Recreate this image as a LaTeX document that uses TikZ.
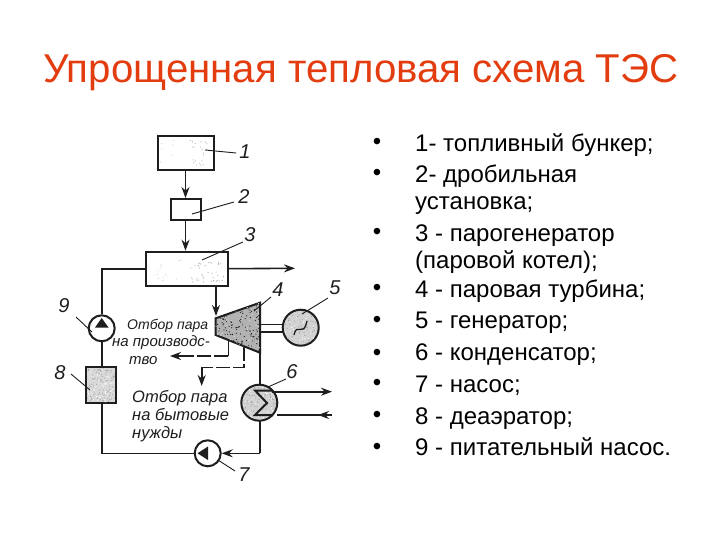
\documentclass[tikz,border=0pt]{standalone}
\usepackage{fontspec}
\setmainfont{Liberation Sans}
\usetikzlibrary{arrows.meta}
\definecolor{titlered}{RGB}{226,60,15}
\definecolor{ink}{RGB}{30,30,30}
\tikzset{
  pipe/.style={draw=ink,line width=1.6pt},
  flow/.style={pipe,-{Stealth[length=11pt,width=8pt]}},
  shell/.style={draw=ink,line width=2pt,inner sep=0pt},
  leader/.style={draw=ink,line width=.9pt},
  num/.style={font=\itshape\fontsize{20}{20}\selectfont,text=ink,inner sep=0pt},
  hand/.style={font=\itshape\fontsize{15}{17.5}\selectfont,text=ink,align=left,inner sep=0pt},
  handb/.style={font=\itshape\fontsize{16.5}{18}\selectfont,text=ink,align=left,inner sep=0pt},
  bul/.style={font=\fontsize{24}{24}\selectfont,inner sep=0pt},
  item/.style={font=\fontsize{24}{24}\selectfont,anchor=base west,inner sep=0pt}
}
% x, y, w, h, count, colour
\newcommand{\speckle}[6]{%
  \foreach \k in {1,...,#5}{%
    \pgfmathsetmacro{\px}{#1+rnd*#3}%
    \pgfmathsetmacro{\py}{#2+rnd*#4}%
    \fill[#6] (\px,\py) circle (.6pt);
  }%
}
\pgfmathsetseed{17}
\begin{document}
\begin{tikzpicture}[x=1pt,y=-1pt]
\useasboundingbox (0,0) rectangle (720,540);
\fill[white] (0,0) rectangle (720,540);
\node[anchor=base west,inner sep=0pt,text=titlered,font=\fontsize{40.2}{40}\selectfont] (title) at (43,83) {Упрощенная тепловая схема ТЭС};
% boxes
\node[shell,fill=white,minimum width=56pt,minimum height=34pt] (b1) at (185.5,153) {};
\node[shell,fill=white,minimum width=30pt,minimum height=21pt] (b2) at (185.5,209.5) {};
\node[shell,fill=white,minimum width=82pt,minimum height=34pt] (b3) at (186.5,268.7) {};
\node[shell,fill=gray!30,minimum width=30pt,minimum height=36pt] (b8) at (101,384.7) {};
\node[shell,circle,fill=white,minimum size=26pt] (p9) at (101.7,328.3) {};
\node[shell,circle,fill=white,minimum size=26pt] (p7) at (207.7,453.3) {};
\node[shell,circle,fill=gray!35,minimum size=36pt] (g5) at (300.7,327.7) {};
\node[shell,circle,fill=gray!35,minimum size=36pt] (c6) at (259.3,402.7) {};
\coordinate (t1) at (215.7,318.3);
\coordinate (t2) at (260,302.7);
\coordinate (t3) at (260,352.7);
\coordinate (t4) at (215.7,335);
\filldraw[shell,fill=gray!60] (t1) -- (t2) -- (t3) -- (t4) -- cycle;
% speckle
\speckle{190}{140}{20}{26}{22}{gray!55}
\speckle{160}{140}{15}{26}{6}{gray!35}
\speckle{190}{262}{34}{20}{40}{gray!60}
\speckle{150}{256}{40}{26}{14}{gray!35}
\begin{scope}\clip (87,368) rectangle (115,402);
\speckle{87}{368}{28}{34}{110}{gray!70}
\speckle{87}{368}{28}{34}{60}{white}
\end{scope}
\begin{scope}\clip (t1) -- (t2) -- (t3) -- (t4) -- cycle;
\speckle{216}{303}{44}{50}{150}{ink}
\speckle{216}{303}{44}{50}{50}{gray!25}
\end{scope}
\begin{scope}\clip (300.7,327.7) circle (17pt);
\speckle{283}{310}{36}{36}{90}{gray!75}
\speckle{283}{310}{36}{36}{50}{white}
\end{scope}
\begin{scope}\clip (259.3,402.7) circle (17pt);
\speckle{242}{385}{36}{36}{90}{gray!75}
\speckle{242}{385}{36}{36}{50}{white}
\end{scope}
% pump triangles
\fill[ink] (101.7,318) -- (108.5,327.5) -- (95,327.5) -- cycle;
\fill[ink] (197.5,453.3) -- (208,446.5) -- (208,460) -- cycle;
% sum symbol
\draw[ink,line width=2pt] (272,390.5) -- (255,390.5) -- (267,403) -- (255,415) -- (273,415);
% tilde
\draw[ink,line width=1.3pt] (294,335) .. controls (297,321) and (303,339) .. (307,321);
% connectors
\draw[flow] (b1.south -| b2.south) -- (b2.north);
\draw[flow] (b2.south) -- (b2.south |- b3.north);
\coordinate (a3) at (295,268.3);
\draw[flow] (b3.east) -- (a3);
\coordinate (c31) at (216,285.7);
\coordinate (c32) at (216,316);
\draw[flow] (c31) -- (c32);
\coordinate (c33) at (101.7,268.7);
\draw[pipe] (b3.west) -- (c33) -- (p9.north);
\draw[pipe] (p9.south) -- (b8.north -| p9.south);
\coordinate (c81) at (101.7,402.7);
\coordinate (c82) at (101.7,453.3);
\draw[pipe] (c81) -- (c82) -- (p7.west);
\coordinate (c61) at (260,384.7);
\draw[pipe] (t3) -- (c61);
\coordinate (c62) at (260,420.7);
\coordinate (c63) at (260,453.3);
\draw[pipe] (c62) -- (c63);
\draw[flow] (c63) -- (p7.east);
\draw[pipe] (260,324.3) -- (283,324.3);
\draw[pipe] (260,331.7) -- (283,331.7);
\coordinate (o1) at (272,391.7);
\coordinate (o2) at (332,391.7);
\coordinate (o3) at (332,415);
\coordinate (o4) at (277,415);
\coordinate (o5) at (318,415);
\draw[flow] (o1) -- (o2);
\draw[pipe] (o3) -- (o4);
\draw[flow] (o3) -- (o5);
% extractions
\coordinate (e1) at (228.3,341);
\coordinate (e2) at (228.3,356);
\coordinate (e3) at (170,356);
\coordinate (e4) at (185,356);
\draw[pipe] (e1) -- (e2);
\draw[pipe,dash pattern=on 14pt off 3pt] (e2) -- (e4);
\draw[flow] (e4) -- (e3);
\coordinate (f1) at (244,347);
\coordinate (f2) at (244,367.3);
\coordinate (f3) at (201.7,367.3);
\coordinate (f4) at (201.7,386);
\draw[pipe,dash pattern=on 14pt off 3pt] (f1) -- (f2) -- (f3);
\draw[flow] (f3) -- (f4);
% leaders and numbers
\node[num] (n1) at (245,152) {1};
\node[num] (n2) at (244,197) {2};
\node[num] (n3) at (250,235) {3};
\node[num] (n4) at (278,290) {4};
\node[num] (n5) at (335,288) {5};
\node[num] (n6) at (292,372) {6};
\node[num] (n7) at (244,475) {7};
\node[num] (n8) at (60,373) {8};
\node[num] (n9) at (64,306) {9};
\draw[leader] (205,150) -- (236,153);
\draw[leader] (192,214) -- (234,202);
\draw[leader] (202,260) -- (243,242);
\draw[leader] (254,311) -- (271,297);
\draw[leader] (302,314) -- (328,298);
\draw[leader] (268,387) -- (286,379);
\draw[leader] (218,460) -- (235,471);
\draw[leader] (71,374) -- (90,390);
\draw[leader] (76,317) -- (92,332);
% handwritten labels
\node[hand,anchor=north west] (h1) at (112,319) {\hspace*{15pt}{\fontsize{14}{17.5}\selectfont Отбор пара}\\на производс-\\\hspace*{17pt}тво};
\node[handb,anchor=north west] (h2) at (132,390) {Отбор пара\\на бытовые\\нужды};
% list
\node[bul] (d1) at (377,144) {•};
\node[bul] (d2) at (377,175) {•};
\node[bul] (d3) at (377,234) {•};
\node[bul] (d4) at (377,290) {•};
\node[bul] (d5) at (377,322) {•};
\node[bul] (d6) at (377,355) {•};
\node[bul] (d7) at (377,385) {•};
\node[bul] (d8) at (377,417) {•};
\node[bul] (d9) at (377,449) {•};
\node[item] (i1) at (415,152) {1- топливный бункер;};
\node[item] (i2) at (415,183) {2- дробильная};
\node[item] (i2b) at (415,210) {установка;};
\node[item] (i3) at (415,241) {3 - парогенератор};
\node[item] (i3b) at (415,268) {(паровой котел);};
\node[item] (i4) at (415,297) {4 - паровая турбина;};
\node[item] (i5) at (415,328) {5 - генератор;};
\node[item] (i6) at (415,360) {6 - конденсатор;};
\node[item] (i7) at (415,392) {7 - насос;};
\node[item] (i8) at (415,424) {8 - деаэратор;};
\node[item] (i9) at (415,455) {9 - питательный насос.};
\end{tikzpicture}
\end{document}
